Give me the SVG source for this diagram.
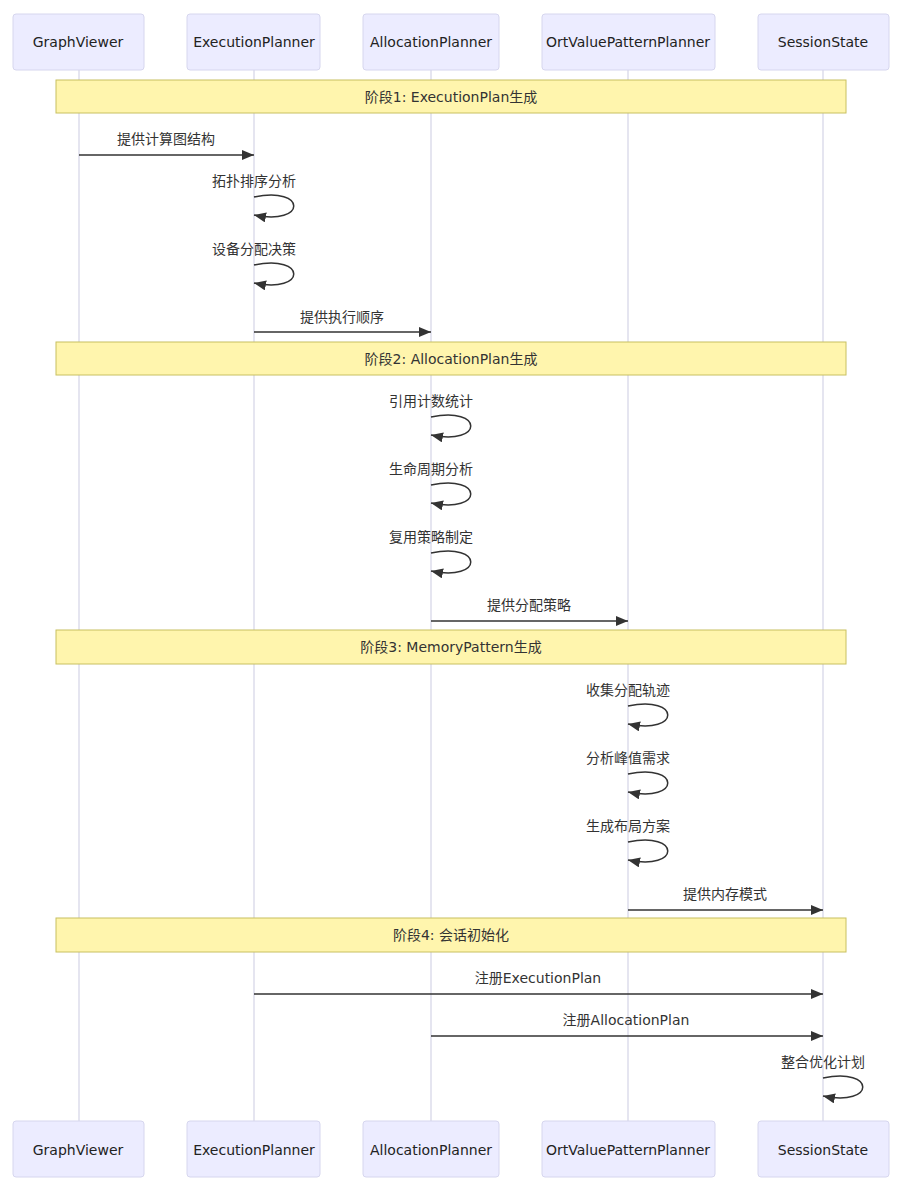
<svg xmlns="http://www.w3.org/2000/svg" width="905" height="1178" viewBox="0 0 905 1178">
<style>
.actor{fill:#ECECFF;stroke:#d6d6ee;stroke-width:1}
.atext{font-family:"DejaVu Sans","Noto Sans CJK SC",sans-serif;font-size:14px;fill:#222;text-anchor:middle;dominant-baseline:central}
.life{stroke:#d4d4e6;stroke-width:1.2}
.note{fill:#fff5ad;stroke:#c8c060;stroke-width:1}
.ntext{font-family:"DejaVu Sans","Noto Sans CJK SC",sans-serif;font-size:14px;fill:#333;text-anchor:middle;dominant-baseline:central}
.mtext{font-family:"DejaVu Sans","Noto Sans CJK SC",sans-serif;font-size:14px;fill:#333;text-anchor:middle;dominant-baseline:central}
.msg{stroke:#333;stroke-width:1.5;fill:none;marker-end:url(#arrow)}
</style>
<defs>
<marker id="arrow" viewBox="0 0 12 10" refX="12" refY="5" markerWidth="12" markerHeight="10" markerUnits="userSpaceOnUse" orient="auto">
<path d="M0,0 L12,5 L0,10 z" fill="#333"/>
</marker>
</defs>
<rect width="905" height="1178" fill="#ffffff"/>
<g id="lifelines">
<line class="life" x1="79" y1="70" x2="79" y2="1121"/>
<line class="life" x1="254" y1="70" x2="254" y2="1121"/>
<line class="life" x1="431" y1="70" x2="431" y2="1121"/>
<line class="life" x1="628" y1="70" x2="628" y2="1121"/>
<line class="life" x1="823" y1="70" x2="823" y2="1121"/>
</g>
<g id="actor-GraphViewer-top"><rect class="actor" x="13" y="14" width="131" height="56" rx="3"/><text class="atext" x="78" y="42">GraphViewer</text></g>
<g id="actor-ExecutionPlanner-top"><rect class="actor" x="187" y="14" width="133" height="56" rx="3"/><text class="atext" x="254" y="42">ExecutionPlanner</text></g>
<g id="actor-AllocationPlanner-top"><rect class="actor" x="363" y="14" width="136" height="56" rx="3"/><text class="atext" x="431" y="42">AllocationPlanner</text></g>
<g id="actor-OrtValuePatternPlanner-top"><rect class="actor" x="542" y="14" width="173" height="56" rx="3"/><text class="atext" x="628" y="42">OrtValuePatternPlanner</text></g>
<g id="actor-SessionState-top"><rect class="actor" x="758" y="14" width="131" height="56" rx="3"/><text class="atext" x="823" y="42">SessionState</text></g>

<g id="note-phase1"><rect class="note" x="56" y="80" width="790" height="33"/><text class="ntext" x="451" y="97">阶段1: ExecutionPlan生成</text></g>
<g id="note-phase2"><rect class="note" x="56" y="342" width="790" height="33"/><text class="ntext" x="451" y="359">阶段2: AllocationPlan生成</text></g>
<g id="note-phase3"><rect class="note" x="56" y="630" width="790" height="34"/><text class="ntext" x="451" y="647">阶段3: MemoryPattern生成</text></g>
<g id="note-phase4"><rect class="note" x="56" y="918" width="790" height="34"/><text class="ntext" x="451" y="935">阶段4: 会话初始化</text></g>

<g id="connectors">
<line class="msg" x1="79" y1="155" x2="254" y2="155"/>
<text class="mtext" x="166" y="139">提供计算图结构</text>
<path class="msg" d="M254,197 C307,186 307,226 254,215"/>
<text class="mtext" x="254" y="181">拓扑排序分析</text>
<path class="msg" d="M254,265 C307,254 307,294 254,283"/>
<text class="mtext" x="254" y="249">设备分配决策</text>
<line class="msg" x1="254" y1="332" x2="431" y2="332"/>
<text class="mtext" x="342" y="317">提供执行顺序</text>

<path class="msg" d="M431,417 C484,406 484,446 431,435"/>
<text class="mtext" x="431" y="401">引用计数统计</text>
<path class="msg" d="M431,485 C484,474 484,514 431,503"/>
<text class="mtext" x="431" y="469">生命周期分析</text>
<path class="msg" d="M431,553 C484,542 484,582 431,571"/>
<text class="mtext" x="431" y="537">复用策略制定</text>
<line class="msg" x1="431" y1="621" x2="628" y2="621"/>
<text class="mtext" x="529" y="605">提供分配策略</text>

<path class="msg" d="M628,706 C681,695 681,735 628,724"/>
<text class="mtext" x="628" y="690">收集分配轨迹</text>
<path class="msg" d="M628,774 C681,763 681,803 628,792"/>
<text class="mtext" x="628" y="758">分析峰值需求</text>
<path class="msg" d="M628,842 C681,831 681,871 628,860"/>
<text class="mtext" x="628" y="826">生成布局方案</text>
<line class="msg" x1="628" y1="910" x2="823" y2="910"/>
<text class="mtext" x="725" y="894">提供内存模式</text>

<line class="msg" x1="254" y1="994" x2="823" y2="994"/>
<text class="mtext" x="538" y="978">注册ExecutionPlan</text>
<line class="msg" x1="431" y1="1036" x2="823" y2="1036"/>
<text class="mtext" x="626" y="1020">注册AllocationPlan</text>
<path class="msg" d="M823,1078 C876,1067 876,1107 823,1096"/>
<text class="mtext" x="823" y="1062">整合优化计划</text>
</g>

<g id="actor-GraphViewer-bottom"><rect class="actor" x="13" y="1121" width="131" height="56" rx="3"/><text class="atext" x="78" y="1150">GraphViewer</text></g>
<g id="actor-ExecutionPlanner-bottom"><rect class="actor" x="187" y="1121" width="133" height="56" rx="3"/><text class="atext" x="254" y="1150">ExecutionPlanner</text></g>
<g id="actor-AllocationPlanner-bottom"><rect class="actor" x="363" y="1121" width="136" height="56" rx="3"/><text class="atext" x="431" y="1150">AllocationPlanner</text></g>
<g id="actor-OrtValuePatternPlanner-bottom"><rect class="actor" x="542" y="1121" width="173" height="56" rx="3"/><text class="atext" x="628" y="1150">OrtValuePatternPlanner</text></g>
<g id="actor-SessionState-bottom"><rect class="actor" x="758" y="1121" width="131" height="56" rx="3"/><text class="atext" x="823" y="1150">SessionState</text></g>
</svg>
